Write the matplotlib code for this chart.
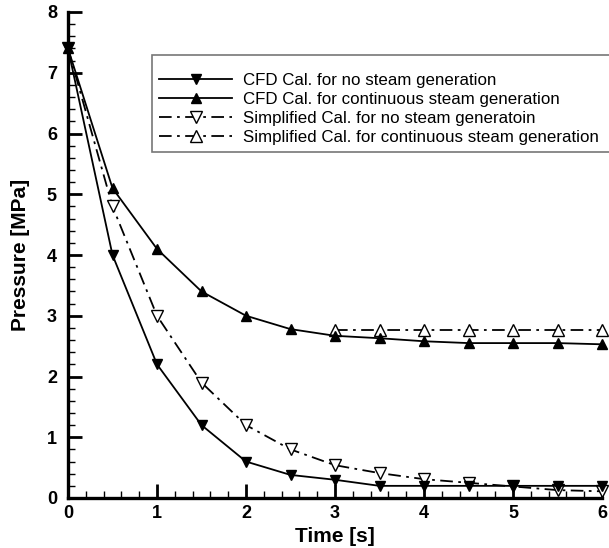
import matplotlib
matplotlib.use("Agg")
import matplotlib.pyplot as plt
from matplotlib.ticker import MultipleLocator

plt.rcParams['font.family'] = ['Liberation Sans', 'DejaVu Sans']

t_cfd = [0, 0.5, 1.0, 1.5, 2.0, 2.5, 3.0, 3.5, 4.0, 4.5, 5.0, 5.5, 6.0]
p_cfd_none = [7.4, 4.0, 2.2, 1.2, 0.6, 0.38, 0.3, 0.2, 0.2, 0.2, 0.2, 0.2, 0.2]
p_cfd_cont = [7.4, 5.1, 4.1, 3.4, 3.0, 2.78, 2.67, 2.63, 2.58, 2.55, 2.55, 2.55, 2.53]
t_simp_none = [0, 0.5, 1.0, 1.5, 2.0, 2.5, 3.0, 3.5, 4.0, 4.5, 5.0, 5.5, 6.0]
p_simp_none = [7.4, 4.8, 3.0, 1.9, 1.2, 0.8, 0.54, 0.41, 0.31, 0.25, 0.19, 0.13, 0.11]
t_simp_cont = [3.0, 3.5, 4.0, 4.5, 5.0, 5.5, 6.0]
p_simp_cont = [2.77, 2.77, 2.77, 2.77, 2.77, 2.77, 2.77]

labels = ["CFD Cal. for no steam generation",
          "CFD Cal. for continuous steam generation",
          "Simplified Cal. for no steam generatoin",
          "Simplified Cal. for continuous steam generation"]

fig = plt.figure(figsize=(6.09, 5.48), dpi=100)
ax = fig.add_axes([68/609, 50/548, 534/609, 486/548])

lw = 1.3
ms = 7
dd = (7, 3, 1.5, 3)
ax.plot(t_simp_none, p_simp_none, color='black', lw=lw, marker='v', ms=ms + 1,
        mfc='white', mec='black', mew=1.0, dashes=dd, clip_on=False,
        label=labels[2], zorder=3)
ax.plot(t_simp_cont, p_simp_cont, color='black', lw=lw, marker='^', ms=ms + 1,
        mfc='white', mec='black', mew=1.0, dashes=dd, clip_on=False,
        label=labels[3], zorder=3)
ax.plot(t_cfd, p_cfd_none, color='black', lw=lw, marker='v', ms=ms,
        mfc='black', mec='black', clip_on=False, label=labels[0], zorder=4)
ax.plot(t_cfd, p_cfd_cont, color='black', lw=lw, marker='^', ms=ms,
        mfc='black', mec='black', clip_on=False, label=labels[1], zorder=4)

ax.set_xlim(0, 6)
ax.set_ylim(0, 8)
ax.xaxis.set_major_locator(MultipleLocator(1))
ax.xaxis.set_minor_locator(MultipleLocator(0.2))
ax.yaxis.set_major_locator(MultipleLocator(1))
ax.yaxis.set_minor_locator(MultipleLocator(0.2))

for s in ['top', 'right']:
    ax.spines[s].set_visible(False)
for s in ['left', 'bottom']:
    ax.spines[s].set_linewidth(2.4)

ax.tick_params(which='major', direction='in', length=10, width=2.0,
               labelsize=13, pad=5)
ax.tick_params(axis='y', which='major', pad=8)
ax.tick_params(which='minor', direction='in', length=5, width=1.0)
for lab in ax.get_xticklabels() + ax.get_yticklabels():
    lab.set_fontweight('bold')

ax.set_xlabel("Time [s]", fontsize=15, fontweight='bold', labelpad=4)
ax.set_ylabel("Pressure [MPa]", fontsize=15, fontweight='bold', labelpad=12)

h, l = ax.get_legend_handles_labels()
order = [2, 3, 0, 1]
leg = ax.legend([h[i] for i in order], [l[i] for i in order],
                loc='upper left', bbox_to_anchor=(152/609, 1 - 55/548, 480/609, 0),
                bbox_transform=fig.transFigure, mode='expand',
                fontsize=12.2, frameon=True, title=" ",
                title_fontproperties={'size': 5.5},
                fancybox=False, edgecolor='#555555', handlelength=4.3,
                handletextpad=0.65, labelspacing=0.23, borderpad=0.43,
                borderaxespad=0)
leg.get_frame().set_linewidth(1.2)

fig.savefig("out.png", dpi=100)
